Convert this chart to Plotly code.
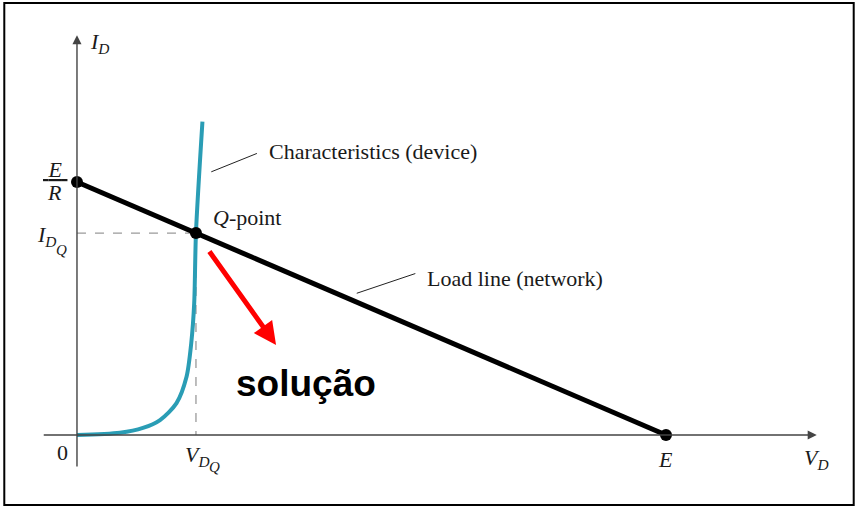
import plotly.graph_objects as go

# diode characteristic (device)
char_v = [0, 0.73, 1.12, 1.41, 1.69, 1.86, 1.94, 1.99, 2.02, 2.13]
char_i = [0, 0.09, 0.28, 0.59, 1.26, 2.30, 3.63, 5.2, 7.98, 12.38]

# load line (network): E = 10, E/R = 10
E = 10
E_over_R = 10
load_v = [0, E]
load_i = [E_over_R, 0]

# operating point
q_v = 2.02
q_i = 7.98

serif = "Liberation Serif, Times New Roman, serif"
teal = "#2a9db5"
axis_col = "#444444"

fig = go.Figure()

# dashed projections of the Q-point
fig.add_scatter(x=[0, q_v], y=[q_i, q_i], mode="lines",
                line=dict(color="#9a9a9a", width=1.3, dash="dash"), hoverinfo="skip")
fig.add_scatter(x=[q_v, q_v], y=[q_i, 0], mode="lines",
                line=dict(color="#9a9a9a", width=1.3, dash="dash"), hoverinfo="skip")

fig.add_scatter(x=char_v, y=char_i, mode="lines",
                line=dict(color=teal, width=4, shape="spline", smoothing=0.8), hoverinfo="skip")
fig.add_scatter(x=load_v, y=load_i, mode="lines",
                line=dict(color="black", width=5), hoverinfo="skip")
fig.add_scatter(x=[0, q_v, E], y=[E_over_R, q_i, 0], mode="markers",
                marker=dict(color="black", size=12), hoverinfo="skip")

# axes drawn as arrows
fig.add_annotation(x=12.56, y=0, ax=-0.59, ay=0, axref="x", ayref="y", text="",
                   showarrow=True, arrowhead=2, arrowsize=1.3, arrowwidth=1.4,
                   arrowcolor=axis_col)
fig.add_annotation(x=0, y=15.8, ax=0, ay=-1.3, axref="x", ayref="y", text="",
                   showarrow=True, arrowhead=2, arrowsize=1.3, arrowwidth=1.4,
                   arrowcolor=axis_col)

# leader lines
fig.add_annotation(x=2.28, y=10.4, ax=3.08, ay=11.15, axref="x", ayref="y", text="",
                   showarrow=True, arrowhead=0, arrowwidth=1, arrowcolor="#222")
fig.add_annotation(x=4.75, y=5.6, ax=5.77, ay=6.4, axref="x", ayref="y", text="",
                   showarrow=True, arrowhead=0, arrowwidth=1, arrowcolor="#222")

# red arrow pointing to the solution
fig.add_annotation(x=3.38, y=3.56, ax=2.23, ay=7.31, axref="x", ayref="y", text="",
                   showarrow=True, arrowhead=2, arrowsize=0.9, arrowwidth=5,
                   arrowcolor="#ff0000")

txt = dict(font=dict(family=serif, size=22, color="#1a1a1a"), showarrow=False)
small = dict(font=dict(family=serif, size=15, color="#1a1a1a"), showarrow=False)
fig.add_annotation(x=3.22, y=11.2, text="Characteristics (device)", xanchor="left", **txt)
fig.add_annotation(x=2.28, y=8.6, text="<i>Q</i>-point", xanchor="left", **txt)
fig.add_annotation(x=5.91, y=6.2, text="Load line (network)", xanchor="left", **txt)
fig.add_annotation(x=0.18, y=15.5, text="<i>I</i><sub><i>D</i></sub>", xanchor="left", **txt)
fig.add_annotation(x=-0.374, y=10.5, text="<u>&nbsp;<i>E</i>&nbsp;</u>", xanchor="center", **txt)
fig.add_annotation(x=-0.374, y=9.58, text="<i>R</i>", xanchor="center", **txt)
fig.add_annotation(x=-0.32, y=7.85, text="<i>I</i><sub><i>D</i></sub>", xanchor="right", **txt)
fig.add_annotation(x=-0.255, y=7.3, text="<i>Q</i>", xanchor="center", **small)
fig.add_annotation(x=2.05, y=-0.85, text="<i>V</i><sub><i>D</i></sub>", xanchor="center", **txt)
fig.add_annotation(x=2.34, y=-1.25, text="<i>Q</i>", xanchor="center", **small)
fig.add_annotation(x=-0.25, y=-0.7, text="0", xanchor="center", **txt)
fig.add_annotation(x=E, y=-0.95, text="<i>E</i>", xanchor="center", **txt)
fig.add_annotation(x=12.55, y=-0.95, text="<i>V</i><sub><i>D</i></sub>", xanchor="center", **txt)

fig.add_annotation(x=3.89, y=2.05, text="<b>solução</b>", showarrow=False,
                   font=dict(family="Liberation Sans, Arial, sans-serif", size=37, color="black"))

# outer frame
fig.add_shape(type="rect", xref="paper", yref="paper", x0=0.005, x1=0.995, y0=0.004, y1=0.994,
              line=dict(color="black", width=2))

fig.update_xaxes(range=[-1.307, 13.26], visible=False)
fig.update_yaxes(range=[-2.846, 17.19], visible=False)
fig.update_layout(width=858, height=507, margin=dict(l=0, r=0, t=0, b=0),
                  plot_bgcolor="white", paper_bgcolor="white", showlegend=False)

fig.write_html("out.html", config={"displayModeBar": False},
               post_script="document.body.style.margin='0';")
